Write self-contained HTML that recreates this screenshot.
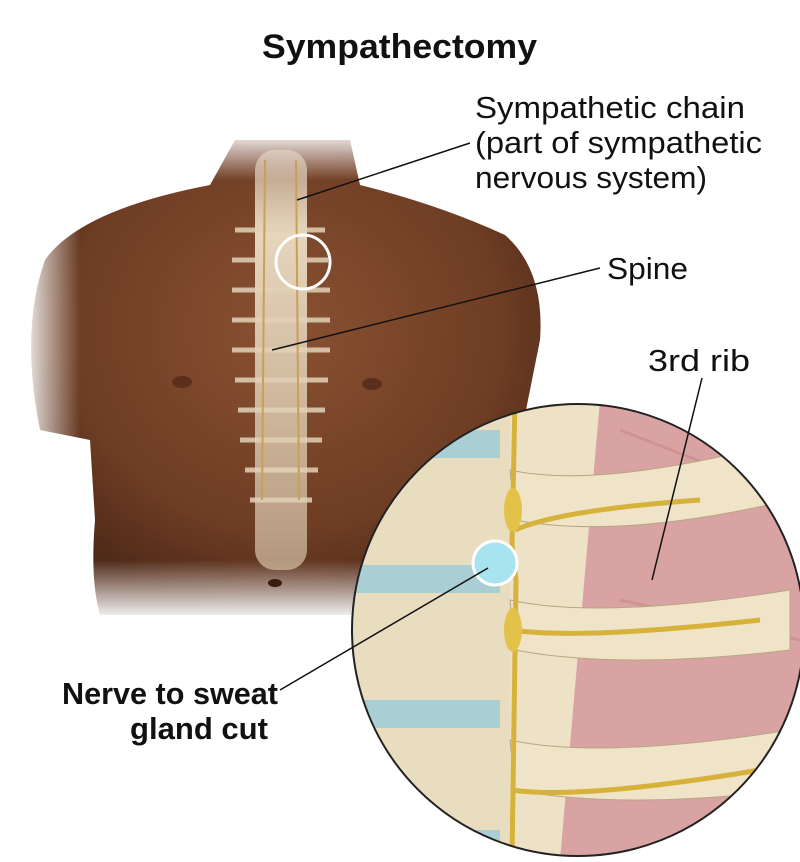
<!DOCTYPE html>
<html><head><meta charset="utf-8"><style>
html,body{margin:0;padding:0;background:#fff;}
svg{display:block;}
text{font-family:"Liberation Sans",sans-serif;fill:#111;}
</style></head><body>
<svg width="800" height="862" viewBox="0 0 800 862" xmlns="http://www.w3.org/2000/svg">
<defs>
<radialGradient id="skin" cx="50%" cy="40%" r="60%">
<stop offset="0" stop-color="#8a5132"/><stop offset="0.7" stop-color="#6e3d24"/><stop offset="1" stop-color="#4f2a18"/>
</radialGradient>
<linearGradient id="fadeL" x1="0" x2="1"><stop offset="0" stop-color="#fff"/><stop offset="1" stop-color="#fff" stop-opacity="0"/></linearGradient>
<linearGradient id="fadeB" x1="0" y1="0" x2="0" y2="1"><stop offset="0" stop-color="#fff" stop-opacity="0"/><stop offset="1" stop-color="#fff"/></linearGradient>
<linearGradient id="fadeT" x1="0" y1="0" x2="0" y2="1"><stop offset="0" stop-color="#fff"/><stop offset="1" stop-color="#fff" stop-opacity="0"/></linearGradient>
<linearGradient id="spine" x1="0" y1="0" x2="0" y2="1"><stop offset="0" stop-color="#efe4d2" stop-opacity="0.5"/><stop offset="0.2" stop-color="#e6d6bd"/><stop offset="1" stop-color="#d3c0a4" stop-opacity="0.7"/></linearGradient>
<clipPath id="cc"><circle cx="578" cy="630" r="226"/></clipPath>
</defs>
<text x="262" y="58" font-size="34" font-weight="bold" textLength="275" lengthAdjust="spacingAndGlyphs">Sympathectomy</text>
<path d="M235 140 L350 140 L360 185 Q440 205 505 235 Q545 270 540 340 L520 440 L470 450 L475 560 Q480 600 470 615 L100 615 Q90 580 95 520 L90 440 L40 430 Q20 330 45 260 Q80 210 210 185 Z" fill="url(#skin)"/>
<rect x="20" y="230" width="60" height="220" fill="url(#fadeL)"/>
<rect x="60" y="560" width="440" height="60" fill="url(#fadeB)"/>
<rect x="200" y="130" width="170" height="50" fill="url(#fadeT)"/>
<rect x="255" y="150" width="52" height="420" rx="20" fill="url(#spine)"/>
<g stroke="#e2d2b8" stroke-width="5" opacity="0.85">
<line x1="235" y1="230" x2="325" y2="230"/><line x1="232" y1="260" x2="328" y2="260"/><line x1="232" y1="290" x2="330" y2="290"/><line x1="232" y1="320" x2="330" y2="320"/><line x1="232" y1="350" x2="330" y2="350"/><line x1="235" y1="380" x2="328" y2="380"/><line x1="238" y1="410" x2="325" y2="410"/><line x1="240" y1="440" x2="322" y2="440"/><line x1="245" y1="470" x2="318" y2="470"/><line x1="250" y1="500" x2="312" y2="500"/>
</g>
<g stroke="#c9a05a" stroke-width="2" fill="none">
<path d="M265 160 L262 500"/><path d="M296 160 L299 500"/>
</g>
<ellipse cx="182" cy="382" rx="10" ry="6" fill="#5a2f1b"/><ellipse cx="372" cy="384" rx="10" ry="6" fill="#5a2f1b"/>
<ellipse cx="275" cy="583" rx="7" ry="4" fill="#3a1c10"/>
<circle cx="303" cy="262" r="27" fill="none" stroke="#fff" stroke-width="3"/>
<g clip-path="url(#cc)">
<rect x="350" y="400" width="460" height="460" fill="#eee2c6"/>
<path d="M600 400 L810 400 L810 860 L560 860 Z" fill="#d9a3a3"/>
<g stroke="#c98888" stroke-width="3" opacity="0.6"><line x1="620" y1="430" x2="800" y2="500"/><line x1="620" y1="600" x2="800" y2="640"/><line x1="620" y1="760" x2="800" y2="800"/></g>
<rect x="350" y="400" width="160" height="460" fill="#e9ddc0"/>
<rect x="350" y="430" width="150" height="28" fill="#a9cfd4"/>
<rect x="350" y="565" width="150" height="28" fill="#a9cfd4"/>
<rect x="350" y="700" width="150" height="28" fill="#a9cfd4"/>
<rect x="350" y="830" width="150" height="28" fill="#a9cfd4"/>
<path d="M510 470 Q600 490 790 440 L790 500 Q620 540 515 520 Z" fill="#efe4c8" stroke="#b7a682"/>
<path d="M510 600 Q600 620 790 590 L790 650 Q620 670 515 650 Z" fill="#efe4c8" stroke="#b7a682"/>
<path d="M510 740 Q600 760 790 730 L790 790 Q620 810 515 790 Z" fill="#efe4c8" stroke="#b7a682"/>
<g stroke="#d6b23a" stroke-width="5" fill="none">
<path d="M515 400 L512 545 L516 580 L512 860"/>
<path d="M515 530 Q560 510 700 500"/><path d="M512 630 Q580 640 760 620"/><path d="M512 790 Q580 800 760 770"/>
</g>
<ellipse cx="513" cy="510" rx="9" ry="22" fill="#e3c24a"/>
<ellipse cx="513" cy="630" rx="9" ry="22" fill="#e3c24a"/>
<circle cx="495" cy="563" r="22" fill="#a8e3f0" stroke="#fff" stroke-width="3"/>
</g>
<circle cx="578" cy="630" r="226" fill="none" stroke="#222" stroke-width="2"/>
<g font-size="31">
<text x="475" y="118" textLength="270" lengthAdjust="spacingAndGlyphs">Sympathetic chain</text>
<text x="475" y="153" textLength="287" lengthAdjust="spacingAndGlyphs">(part of sympathetic</text>
<text x="475" y="188" textLength="232" lengthAdjust="spacingAndGlyphs">nervous system)</text>
<text x="607" y="279" textLength="81" lengthAdjust="spacingAndGlyphs">Spine</text>
<text x="648" y="371" textLength="102" lengthAdjust="spacingAndGlyphs">3rd rib</text>
<text x="62" y="704" font-weight="bold" textLength="216" lengthAdjust="spacingAndGlyphs">Nerve to sweat</text>
<text x="130" y="739" font-weight="bold" textLength="138" lengthAdjust="spacingAndGlyphs">gland cut</text>
</g>
<g stroke="#111" stroke-width="1.5">
<line x1="470" y1="143" x2="297" y2="200"/>
<line x1="600" y1="268" x2="272" y2="350"/>
<line x1="702" y1="378" x2="652" y2="580"/>
<line x1="280" y1="690" x2="488" y2="568"/>
</g>
</svg>
</body></html>
